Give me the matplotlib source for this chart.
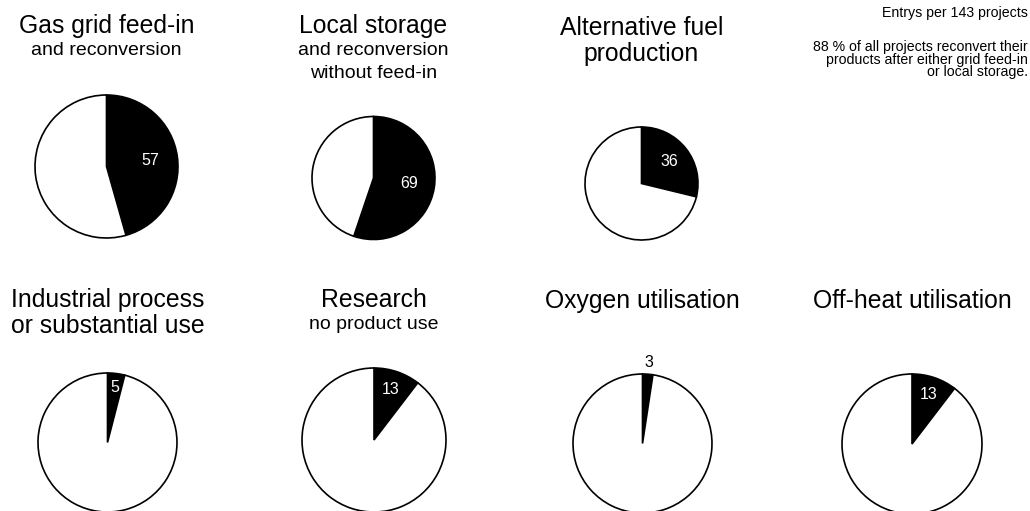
import matplotlib
matplotlib.use("Agg")
import matplotlib.pyplot as plt
import numpy as np

plt.rcParams['font.family'] = ['Liberation Sans', 'DejaVu Sans']

# ---- data ----
titles = ["Gas grid feed-in", "Local storage", "Alternative fuel\nproduction",
          "Industrial process\nor substantial use", "Research",
          "Oxygen utilisation", "Off-heat utilisation"]
subtitles = ["and reconversion", "and reconversion\nwithout feed-in", "",
             "", "no product use", "", ""]
entries = [57, 69, 36, 5, 13, 3, 13]
pie_total = 125
note_head = "Entrys per 143 projects"
note_body = ["88 % of all projects reconvert their",
             "products after either grid feed-in",
             "or local storage."]

# ---- layout (pixel coordinates, y measured from top) ----
W, H = 1030, 511
centers = [(106.5, 166.5), (373.5, 178), (641.5, 183.5),
           (107.5, 442.5), (374, 440), (642.5, 443.5), (912, 444)]
radii = [71.5, 61.5, 56.5, 69.5, 72, 69.5, 70]
label_dist = [0.62, 0.58, 0.62, 0.80, 0.74, 1.17, 0.75]
label_color = ['white'] * 5 + ['black', 'white']
title_base = [33, 33, 35, 307, 307, 308, 308]
sub_base = [55, 55, None, None, 329, None, None]
title_size = 17.8
sub_size = 14
title_lh = 26
sub_lh = 23
note_size = 10.2

fig = plt.figure(figsize=(W / 100, H / 100), dpi=100)
ax = fig.add_axes([0, 0, 1, 1])

for i, v in enumerate(entries):
    cx, cy = centers[i]
    wedges, _ = ax.pie([v, pie_total - v], colors=['black', 'white'],
                       startangle=90, counterclock=False,
                       center=(cx, H - cy), radius=radii[i],
                       wedgeprops=dict(edgecolor='black', linewidth=1.2))
    w = wedges[0]
    mid = np.deg2rad((w.theta1 + w.theta2) / 2)
    d = radii[i] * label_dist[i]
    ax.text(cx + d * np.cos(mid), H - cy + d * np.sin(mid), str(v),
            color=label_color[i], fontsize=11.5, ha='center', va='center')

    # titles
    for k, line in enumerate(titles[i].split("\n")):
        ax.text(cx, H - (title_base[i] + k * title_lh), line,
                fontsize=title_size, ha='center', va='baseline')
    if subtitles[i]:
        for k, line in enumerate(subtitles[i].split("\n")):
            ax.text(cx, H - (sub_base[i] + k * sub_lh), line,
                    fontsize=sub_size, ha='center', va='baseline')

ax.text(1028, H - 17, note_head, fontsize=note_size, ha='right', va='baseline')
for k, line in enumerate(note_body):
    ax.text(1028, H - (51 + k * 12.5), line, fontsize=note_size, ha='right',
            va='baseline')

ax.set_xlim(0, W)
ax.set_ylim(0, H)
ax.axis('off')
fig.savefig("out.png", dpi=100, facecolor='white')
